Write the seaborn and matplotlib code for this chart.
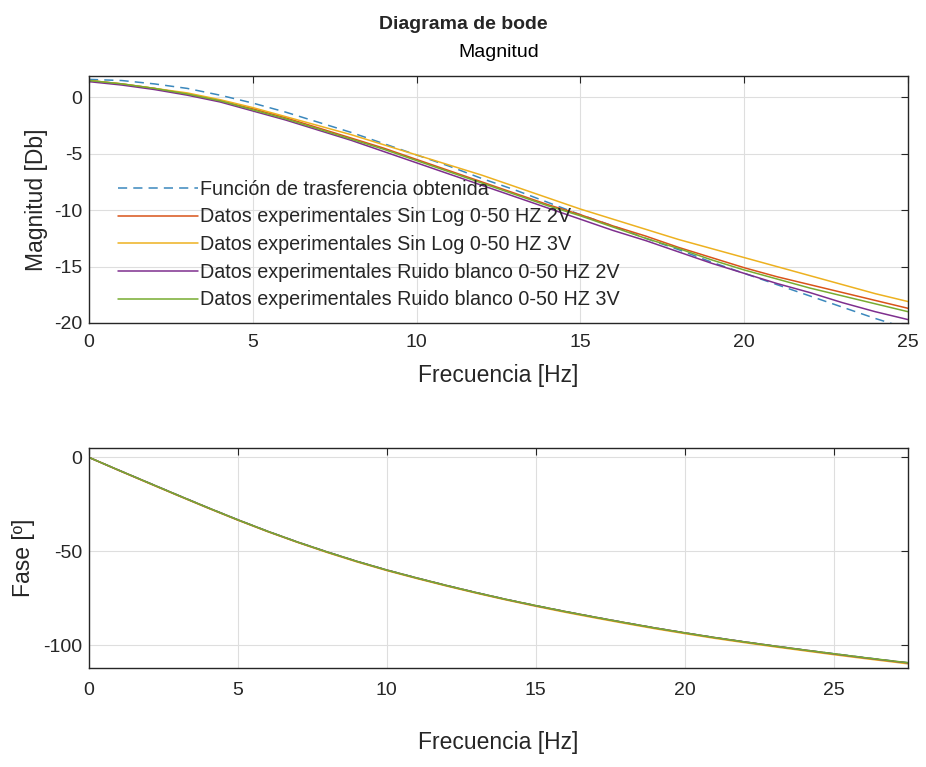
import numpy as np
import pandas as pd
import matplotlib
matplotlib.use("Agg")
import matplotlib.pyplot as plt
import seaborn as sns

# ---------------- data ----------------
freq_mag = [0, 1, 2, 3, 4, 5, 6, 7, 8, 9, 10, 11, 12, 13, 14, 15, 16, 17, 18, 19, 20, 21, 22, 23, 24, 25]
mag_tf = [1.6, 1.5, 1.2, 0.8, 0.2, -0.5, -1.3, -2.2, -3.1, -4.1, -5.1, -6.1, -7.2, -8.2, -9.3, -10.4,
          -11.4, -12.5, -13.5, -14.6, -15.6, -16.6, -17.6, -18.6, -19.6, -20.5]
mag_sinlog_2v = [1.5, 1.2, 0.8, 0.3, -0.3, -1.0, -1.8, -2.7, -3.6, -4.5, -5.5, -6.5, -7.5, -8.5, -9.5, -10.4,
                 -11.4, -12.3, -13.3, -14.2, -15.1, -15.9, -16.6, -17.3, -18.0, -18.7]
mag_sinlog_3v = [1.5, 1.2, 0.8, 0.4, -0.2, -0.9, -1.7, -2.5, -3.3, -4.2, -5.1, -6.0, -6.9, -7.9, -8.9, -9.9,
                 -10.8, -11.7, -12.6, -13.4, -14.2, -15.0, -15.8, -16.6, -17.4, -18.1]
mag_ruido_2v = [1.4, 1.1, 0.7, 0.2, -0.4, -1.2, -2.0, -2.9, -3.8, -4.8, -5.8, -6.8, -7.8, -8.8, -9.8, -10.8,
                -11.8, -12.7, -13.7, -14.7, -15.6, -16.5, -17.3, -18.2, -19.0, -19.7]
mag_ruido_3v = [1.5, 1.2, 0.8, 0.3, -0.3, -1.1, -1.9, -2.8, -3.7, -4.6, -5.6, -6.6, -7.6, -8.6, -9.6, -10.5,
                -11.5, -12.5, -13.4, -14.4, -15.3, -16.1, -16.9, -17.6, -18.3, -19.0]

freq_ph = [0, 1, 2, 3, 4, 5, 6, 7, 8, 9, 10, 11, 12, 13, 14, 15, 16, 17, 18, 19, 20, 21, 22, 23, 24, 25, 26, 27, 27.5]
ph_tf = [0, -6.8, -13.5, -20.2, -26.8, -33.2, -39.3, -45.0, -50.3, -55.3, -59.9, -64.1, -68.1, -71.9, -75.5,
         -78.8, -82.0, -85.0, -87.9, -90.7, -93.3, -95.8, -98.1, -100.3, -102.4, -104.4, -106.4, -108.3, -109.2]
ph_sinlog_2v = [0, -6.9, -13.6, -20.3, -26.9, -33.3, -39.4, -45.1, -50.4, -55.4, -60.0, -64.2, -68.2, -72.0, -75.6,
                -78.9, -82.1, -85.1, -88.0, -90.8, -93.4, -95.9, -98.2, -100.4, -102.5, -104.6, -106.6, -108.5, -109.4]
ph_sinlog_3v = [0, -6.9, -13.7, -20.4, -27.0, -33.4, -39.5, -45.2, -50.6, -55.6, -60.2, -64.4, -68.4, -72.2, -75.8,
                -79.2, -82.4, -85.4, -88.3, -91.1, -93.7, -96.2, -98.5, -100.7, -102.8, -104.9, -106.9, -108.8, -109.8]
ph_ruido_2v = [0, -6.8, -13.5, -20.2, -26.8, -33.2, -39.3, -45.0, -50.3, -55.3, -59.9, -64.1, -68.1, -71.9, -75.5,
               -78.9, -82.0, -85.0, -87.9, -90.7, -93.3, -95.8, -98.1, -100.3, -102.4, -104.5, -106.5, -108.4, -109.3]
ph_ruido_3v = [0, -6.8, -13.5, -20.2, -26.8, -33.2, -39.3, -45.0, -50.3, -55.3, -59.9, -64.1, -68.1, -71.9, -75.5,
               -78.8, -82.0, -85.0, -87.9, -90.7, -93.3, -95.8, -98.1, -100.3, -102.4, -104.4, -106.4, -108.3, -109.2]

labels = ["Función de trasferencia obtenida",
          "Datos experimentales Sin Log 0-50 HZ 2V",
          "Datos experimentales Sin Log 0-50 HZ 3V",
          "Datos experimentales Ruido blanco 0-50 HZ 2V",
          "Datos experimentales Ruido blanco 0-50 HZ 3V"]
colors = ["#3b88bd", "#D95319", "#EDB120", "#7E2F8E", "#77AC30"]

mag_series = [mag_tf, mag_sinlog_2v, mag_sinlog_3v, mag_ruido_2v, mag_ruido_3v]
ph_series = [ph_tf, ph_sinlog_2v, ph_sinlog_3v, ph_ruido_2v, ph_ruido_3v]

# ---------------- styling ----------------
sns.set_style("white")
plt.rcParams["font.family"] = ["Liberation Sans", "DejaVu Sans"]
plt.rcParams["axes.unicode_minus"] = False

fig = plt.figure(figsize=(9.26, 7.67), dpi=100)
ax1 = fig.add_axes([0.0961, 0.5789, 0.8845, 0.3220])
ax2 = fig.add_axes([0.0961, 0.1291, 0.8845, 0.2868])

for i, (lab, col) in enumerate(zip(labels, colors)):
    df = pd.DataFrame({"f": freq_mag, "v": mag_series[i]})
    ls = (0, (6, 4)) if i == 0 else "-"
    sns.lineplot(data=df, x="f", y="v", ax=ax1, color=col, label=lab, linewidth=1.1,
                 linestyle=ls, sort=False)
    dfp = pd.DataFrame({"f": freq_ph, "v": ph_series[i]})
    sns.lineplot(data=dfp, x="f", y="v", ax=ax2, color=col, linewidth=1.1,
                 linestyle=ls, sort=False, legend=False)

txtc = "#262626"
for ax in (ax1, ax2):
    ax.grid(True, color="#dedede", linewidth=0.8)
    ax.tick_params(direction="in", top=True, right=True, labelsize=14, length=5,
                   color=txtc, labelcolor=txtc)
    ax.tick_params(axis="y", pad=5)
    for s in ax.spines.values():
        s.set_color(txtc)
        s.set_linewidth(1.0)
    ax.set_facecolor("white")

ax1.tick_params(axis="x", pad=8)
ax2.tick_params(axis="x", pad=10)

ax1.set_xlim(0, 25)
ax1.set_ylim(-20, 1.9)
ax1.set_xticks([0, 5, 10, 15, 20, 25])
ax1.set_yticks([0, -5, -10, -15, -20])
ax1.set_xlabel("Frecuencia [Hz]", fontsize=16.5, color=txtc)
ax1.set_ylabel("Magnitud [Db]", fontsize=16.5, color=txtc)
ax1.xaxis.set_label_coords(0.5, -0.166)
ax1.yaxis.set_label_coords(-0.050, 0.5)
ax1.set_title("Magnitud", fontsize=14, color="#000000", pad=14)

ax2.set_xlim(0, 27.5)
ax2.set_ylim(-112, 5)
ax2.set_xticks([0, 5, 10, 15, 20, 25])
ax2.set_yticks([0, -50, -100])
ax2.set_xlabel("Frecuencia [Hz]", fontsize=16.5, color=txtc)
ax2.set_ylabel("Fase [º]", fontsize=16.5, color=txtc)
ax2.xaxis.set_label_coords(0.5, -0.285)
ax2.yaxis.set_label_coords(-0.066, 0.5)

leg = ax1.legend(loc="upper left", bbox_to_anchor=(0.035, 0.58), frameon=False,
                 fontsize=14.2, handlelength=4.05, handletextpad=0.15, labelspacing=0.44,
                 borderaxespad=0, borderpad=0)
for t in leg.get_texts():
    t.set_color(txtc)

fig.suptitle("Diagrama de bode", fontsize=14, fontweight="bold", y=0.968, va="center")

fig.savefig("out.png", dpi=100, facecolor="white")
